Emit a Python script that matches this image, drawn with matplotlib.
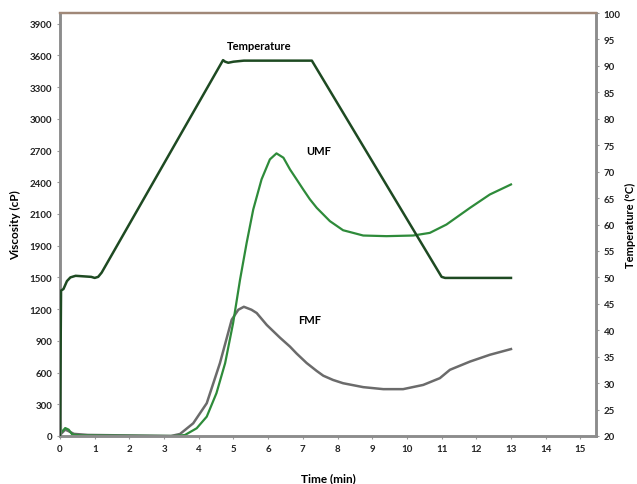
import matplotlib.pyplot as plt
import numpy as np

plt.rcParams['font.family'] = ['Lato', 'DejaVu Sans']

# temperature profile (right axis, degC)
t_temp = [0, 0.03, 0.1, 0.2, 0.3, 0.45, 0.9, 1.0, 1.1, 1.2, 4.70, 4.76, 4.85, 5.0, 5.3, 7.26,
          11.0, 11.1, 13.0]
temp = [20, 47.5, 47.8, 49.3, 50.0, 50.3, 50.1, 49.9, 50.1, 50.9, 91.1, 90.8, 90.6, 90.8, 91.0, 91.0,
        50.1, 49.9, 49.9]

# UMF viscosity (cP)
t_umf = [0, 0.03, 0.15, 0.25, 0.35, 0.6, 3.3, 3.60, 3.94, 4.23, 4.51, 4.76, 4.99, 5.19, 5.38,
         5.57, 5.81, 6.05, 6.24, 6.44, 6.63, 6.82, 7.01, 7.20, 7.40, 7.78, 8.16, 8.74, 9.41,
         10.18, 10.66, 11.14, 11.82, 12.39, 13.0]
umf = [850, 30, 75, 60, 15, 5, 0, 9, 73, 183, 405, 689, 1068, 1479, 1826,
       2142, 2427, 2616, 2673, 2632, 2521, 2427, 2332, 2240, 2158, 2032, 1946, 1896, 1890,
       1896, 1921, 2000, 2158, 2284, 2379]

# FMF viscosity (cP)
t_fmf = [0, 0.03, 0.15, 0.25, 0.4, 0.8, 3.2, 3.46, 3.84, 4.23, 4.61, 4.95, 5.14, 5.30, 5.52,
         5.67, 5.96, 6.15, 6.34, 6.63, 6.82, 7.11, 7.40, 7.59, 7.87, 8.16, 8.74, 9.32, 9.89,
         10.47, 10.95, 11.24, 11.82, 12.39, 13.0]
fmf = [0, 20, 60, 45, 20, 10, 0, 19, 120, 310, 689, 1100, 1194, 1222, 1194,
       1163, 1050, 990, 930, 845, 780, 690, 615, 570, 530, 499, 462, 443, 443,
       483, 547, 626, 704, 768, 822]

x_ticks = list(range(0, 16))
v_ticks = [0, 300, 600, 900, 1200, 1500, 1800, 2100, 2400, 2700, 3000, 3300, 3600, 3900]
v_labels = ['0', '300', '600', '900', '1200', '1500', '1900', '2100', '2400', '2700', '3000',
            '3300', '3600', '3900']
t_ticks = list(range(20, 101, 5))

fig = plt.figure(figsize=(6.37, 4.85), dpi=100)
ax = fig.add_axes([0.0942, 0.099, 0.8414, 0.872])
ax2 = ax.twinx()

ax2.plot(t_temp, temp, color='#1e4a22', lw=1.8, zorder=3)
ax.plot(t_fmf, fmf, color='#6b6b6b', lw=1.8)
ax.plot(t_umf, umf, color='#2e8b3a', lw=1.6)

ax.set_xlim(0, 15.45)
ax.set_ylim(0, 4000)
ax2.set_ylim(20, 100)

ax.set_xticks(x_ticks)
ax.set_yticks(v_ticks)
ax.set_yticklabels(v_labels)
ax2.set_yticks(t_ticks)

for a in (ax, ax2):
    a.tick_params(labelsize=7, length=2, width=0.8, color='#999999')
    for lab in a.get_xticklabels() + a.get_yticklabels():
        lab.set_fontweight('bold')
        lab.set_color('#222222')
    for s in ('left', 'bottom', 'right'):
        a.spines[s].set_color('#8c8c8c')
        a.spines[s].set_linewidth(1.8)
    a.spines['top'].set_color('#a08878')
    a.spines['top'].set_linewidth(1.6)
    a.spines['top'].set_linestyle((0, (3, 1)))

ax.set_ylabel('Viscosity (cP)', fontsize=8.5, fontweight='bold', labelpad=6)
ax2.set_ylabel('Temperature (ºC)', fontsize=8, fontweight='bold', labelpad=3)
ax.set_xlabel('Time (min)', fontsize=8.5, fontweight='bold', labelpad=14)

ax.text(5.75, 3695, 'Temperature', fontsize=8, fontweight='bold', ha='center', va='center')
ax.text(7.45, 2700, 'UMF', fontsize=8, fontweight='bold', ha='center', va='center')
ax.text(7.2, 1100, 'FMF', fontsize=8, fontweight='bold', ha='center', va='center')

plt.savefig('out.png', dpi=100)
